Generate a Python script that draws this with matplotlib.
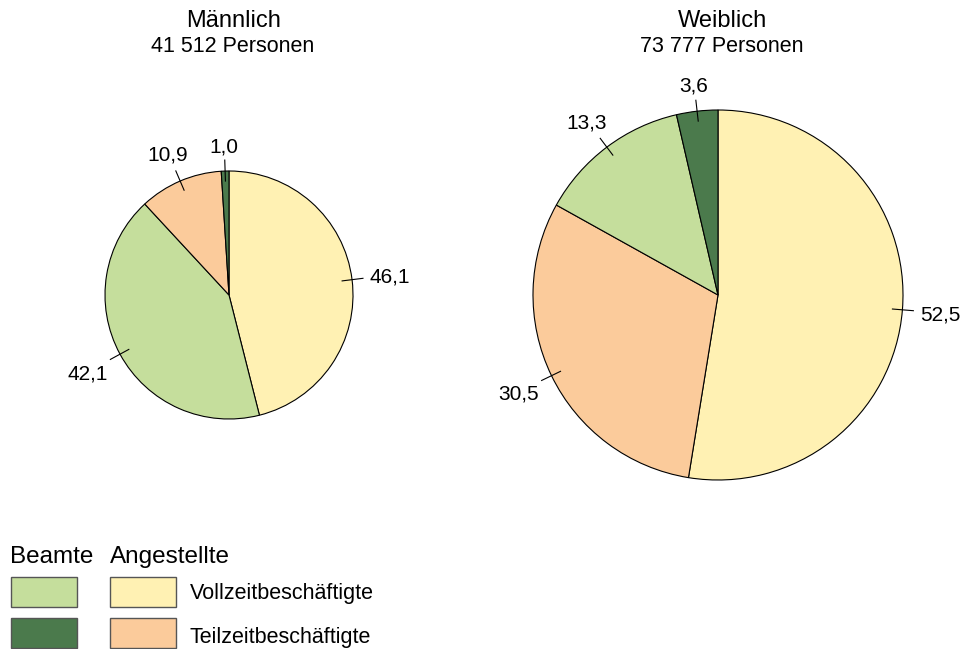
import numpy as np
import matplotlib
matplotlib.use("Agg")
import matplotlib.pyplot as plt
from matplotlib.patches import Rectangle

plt.rcParams['font.family'] = ['Liberation Sans', 'DejaVu Sans']

W, H = 966, 649

# data (percent), drawn clockwise from 12 o'clock
titles = ['Männlich', 'Weiblich']
persons = ['41 512 Personen', '73 777 Personen']
male_cats = ['Angestellte Vollzeit', 'Beamte Vollzeit', 'Angestellte Teilzeit', 'Beamte Teilzeit']
male_vals = [46.1, 42.1, 10.9, 1.0]
female_cats = ['Angestellte Vollzeit', 'Angestellte Teilzeit', 'Beamte Vollzeit', 'Beamte Teilzeit']
female_vals = [52.5, 30.5, 13.3, 3.6]

legend_groups = ['Beamte', 'Angestellte']
legend_rows = ['Vollzeitbeschäftigte', 'Teilzeitbeschäftigte']

colors = {
    'Angestellte Vollzeit': '#FFF1B3',
    'Angestellte Teilzeit': '#FBCB9B',
    'Beamte Vollzeit': '#C5DE9C',
    'Beamte Teilzeit': '#4B7A4C',
}

fig = plt.figure(figsize=(W / 100, H / 100), dpi=100)
ax = fig.add_axes([0, 0, 1, 1])


def fmt(v):
    return f'{v:.1f}'.replace('.', ',')


def draw_pie(cats, vals, cx, cy, r, title, sub):
    wedges, _ = ax.pie(vals, colors=[colors[c] for c in cats], startangle=90,
                       counterclock=False, center=(cx, H - cy), radius=r,
                       wedgeprops=dict(edgecolor='black', linewidth=0.8))
    for w, v in zip(wedges, vals):
        a = np.deg2rad((w.theta1 + w.theta2) / 2)
        x0, y0 = w.center
        # short leader tick across the rim
        ax.plot([x0 + (r - 10) * np.cos(a), x0 + (r + 11) * np.cos(a)],
                [y0 + (r - 10) * np.sin(a), y0 + (r + 11) * np.sin(a)],
                color='black', lw=0.8)
        d = r + 26 + 12 * abs(np.cos(a))
        ax.text(x0 + d * np.cos(a), y0 + d * np.sin(a), fmt(v),
                ha='center', va='center_baseline', fontsize=15)
    ax.text(cx + 5, H - 21, title, ha='center', va='center', fontsize=17)
    ax.text(cx + 4, H - 47, sub, ha='center', va='center', fontsize=15.5)


draw_pie(male_cats, male_vals, 229, 295, 124, titles[0], persons[0])
draw_pie(female_cats, female_vals, 718, 295, 185, titles[1], persons[1])

# legend
ax.text(10, H - 557, legend_groups[0], ha='left', va='center', fontsize=17.5)
ax.text(110, H - 557, legend_groups[1], ha='left', va='center', fontsize=17.5)
box_cols = [['Beamte Vollzeit', 'Angestellte Vollzeit'],
            ['Beamte Teilzeit', 'Angestellte Teilzeit']]
row_text_y = [593, 637]
for i, row in enumerate(legend_rows):
    top = 577 + i * 41
    for j, cat in enumerate(box_cols[i]):
        x = 11 + j * 99
        ax.add_patch(Rectangle((x, H - top - 30), 66, 30, facecolor=colors[cat],
                               edgecolor='#555555', lw=1))
    ax.text(190, H - row_text_y[i], row, ha='left', va='center', fontsize=15.5)

ax.set_xlim(0, W)
ax.set_ylim(0, H)
ax.set_aspect('equal')
ax.axis('off')
fig.savefig('out.png', dpi=100)
